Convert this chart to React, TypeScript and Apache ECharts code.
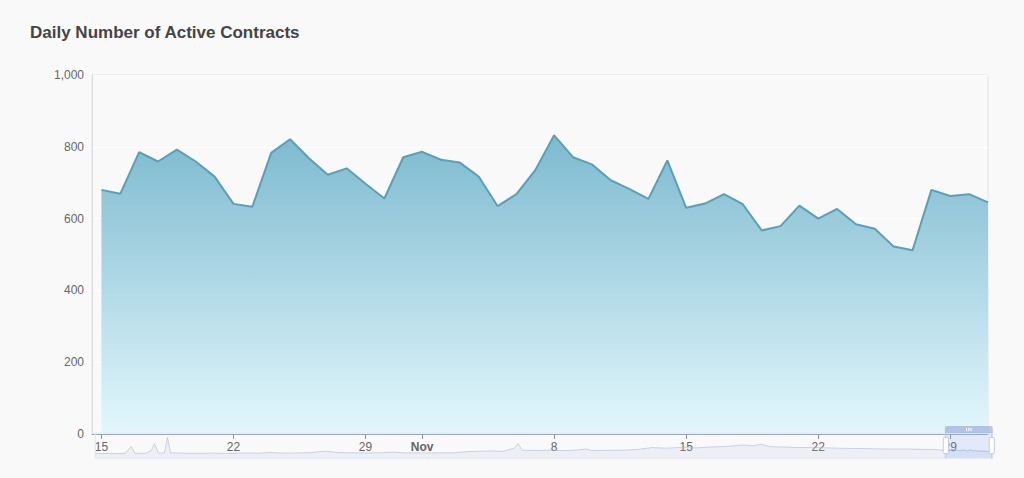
import React, { useEffect, useRef } from "react";
import * as echarts from "echarts";

// Long history (only visible as the zoom slider's data shadow), read approximately
const historyDates = [
  "2021-06-25", "2021-07-05", "2021-07-15", "2021-07-25", "2021-07-31", "2021-08-04",
  "2021-08-14", "2021-08-20", "2021-08-23", "2021-08-27", "2021-09-02", "2021-09-05",
  "2021-09-08", "2021-09-20", "2021-10-05", "2021-10-20", "2021-11-05", "2021-11-20",
  "2021-12-05", "2021-12-15", "2021-12-28", "2022-01-12", "2022-01-25", "2022-02-08",
  "2022-02-20", "2022-03-05", "2022-03-20", "2022-04-05", "2022-04-16", "2022-04-30",
  "2022-05-15", "2022-05-30", "2022-06-15", "2022-06-28", "2022-07-10", "2022-07-22",
  "2022-08-02", "2022-08-10", "2022-08-14", "2022-08-18", "2022-08-22", "2022-09-05",
  "2022-09-20", "2022-10-05", "2022-10-18", "2022-10-24", "2022-10-30", "2022-11-15",
  "2022-11-30", "2022-12-15", "2022-12-29", "2023-01-12", "2023-01-28", "2023-02-10",
  "2023-02-25", "2023-03-12", "2023-03-29", "2023-04-08", "2023-04-15", "2023-04-25",
  "2023-05-08", "2023-05-22", "2023-06-05", "2023-06-17", "2023-07-01", "2023-07-15",
  "2023-07-27", "2023-08-10", "2023-08-25", "2023-09-08", "2023-09-22", "2023-10-05",
  "2023-10-14",
];
const historyValues = [
  180, 210, 190, 230, 1350, 240,
  220, 700, 1880, 260, 300, 2930,
  320, 250, 230, 260, 220, 280,
  250, 380, 260, 300, 350, 600,
  380, 320, 290, 340, 420, 300,
  280, 320, 310, 520, 580, 640,
  560, 900, 1100, 1880, 760, 700,
  740, 680, 820, 980, 700, 720,
  760, 900, 1200, 1100, 1250, 1150,
  1300, 1400, 1650, 1500, 1760, 1350,
  1300, 1200, 1250, 1180, 1100, 1050,
  1040, 980, 950, 960, 900, 880,
  700,
];

// Visible window: Oct 15 – Dec 1
const recentDates = [
  "2023-10-15", "2023-10-16", "2023-10-17", "2023-10-18", "2023-10-19", "2023-10-20",
  "2023-10-21", "2023-10-22", "2023-10-23", "2023-10-24", "2023-10-25", "2023-10-26",
  "2023-10-27", "2023-10-28", "2023-10-29", "2023-10-30", "2023-10-31", "2023-11-01",
  "2023-11-02", "2023-11-03", "2023-11-04", "2023-11-05", "2023-11-06", "2023-11-07",
  "2023-11-08", "2023-11-09", "2023-11-10", "2023-11-11", "2023-11-12", "2023-11-13",
  "2023-11-14", "2023-11-15", "2023-11-16", "2023-11-17", "2023-11-18", "2023-11-19",
  "2023-11-20", "2023-11-21", "2023-11-22", "2023-11-23", "2023-11-24", "2023-11-25",
  "2023-11-26", "2023-11-27", "2023-11-28", "2023-11-29", "2023-11-30", "2023-12-01",
];
const recentValues = [
  680, 669, 785, 759, 792, 759,
  717, 641, 633, 783, 821, 768,
  722, 740, 697, 656, 771, 786,
  764, 756, 717, 635, 668, 735,
  832, 771, 751, 707, 682, 655,
  762, 630, 642, 668, 640, 567,
  579, 636, 600, 627, 584, 572,
  522, 512, 680, 663, 668, 645,
];

const yMin = 0;
const yMax = 1000;
const yInterval = 200;

const windowStart = new Date(2023, 9, 14, 12, 0, 0).getTime();
const windowEnd = new Date(2023, 11, 1, 0, 0, 0).getTime();

export default function App() {
  const ref = useRef<HTMLDivElement>(null);

  useEffect(() => {
    if (!ref.current) return;
    const chart = echarts.init(ref.current, null, { renderer: "svg" });

    const allDates = historyDates.concat(recentDates);
    const allValues = historyValues.concat(recentValues);
    const data = allDates.map((d, i) => [d, allValues[i]]);

    chart.setOption({
      animation: false,
      backgroundColor: "#f9f9f9",
      textStyle: { fontFamily: "Liberation Sans, Arial, sans-serif" },
      title: {
        text: "Daily Number of Active Contracts",
        left: 25,
        top: 19,
        textStyle: {
          fontSize: 17,
          fontWeight: "bold",
          color: "#444444",
          fontFamily: "Liberation Sans, Arial, sans-serif",
        },
      },
      grid: {
        left: 92,
        right: 36,
        top: 75,
        bottom: 44,
        show: true,
        borderColor: "#e2e2e2",
        borderWidth: 1,
        backgroundColor: "transparent",
      },
      xAxis: {
        type: "time",
        axisLine: { lineStyle: { color: "#9ea9b8" } },
        axisTick: { lineStyle: { color: "#8a8f99" }, length: 5 },
        axisLabel: { color: "#666666", fontSize: 12, margin: 7 },
        splitLine: { show: false },
      },
      yAxis: {
        type: "value",
        min: yMin,
        max: yMax,
        interval: yInterval,
        axisLine: { show: true, lineStyle: { color: "#dcdcdc" } },
        axisTick: { show: false },
        axisLabel: { color: "#666666", fontSize: 12, margin: 8 },
        splitLine: { lineStyle: { color: "#ffffff", width: 1 } },
      },
      dataZoom: [
        {
          type: "slider",
          xAxisIndex: 0,
          startValue: windowStart,
          endValue: windowEnd,
          left: 92,
          right: 34,
          top: 426,
          height: 26,
          showDetail: false,
          filterMode: "filter",
        },
      ],
      series: [
        {
          type: "line",
          data,
          symbol: "none",
          showSymbol: false,
          lineStyle: { color: "#5a9fb8", width: 2 },
          areaStyle: {
            color: new echarts.graphic.LinearGradient(0, 0, 0, 1, [
              { offset: 0, color: "#7dbacf" },
              { offset: 1, color: "#e3f7fd" },
            ]),
            opacity: 1,
          },
        },
      ],
    });

    return () => chart.dispose();
  }, []);

  return (
    <div
      ref={ref}
      style={{ position: "fixed", left: 0, top: 0, width: 1024, height: 478 }}
    />
  );
}
